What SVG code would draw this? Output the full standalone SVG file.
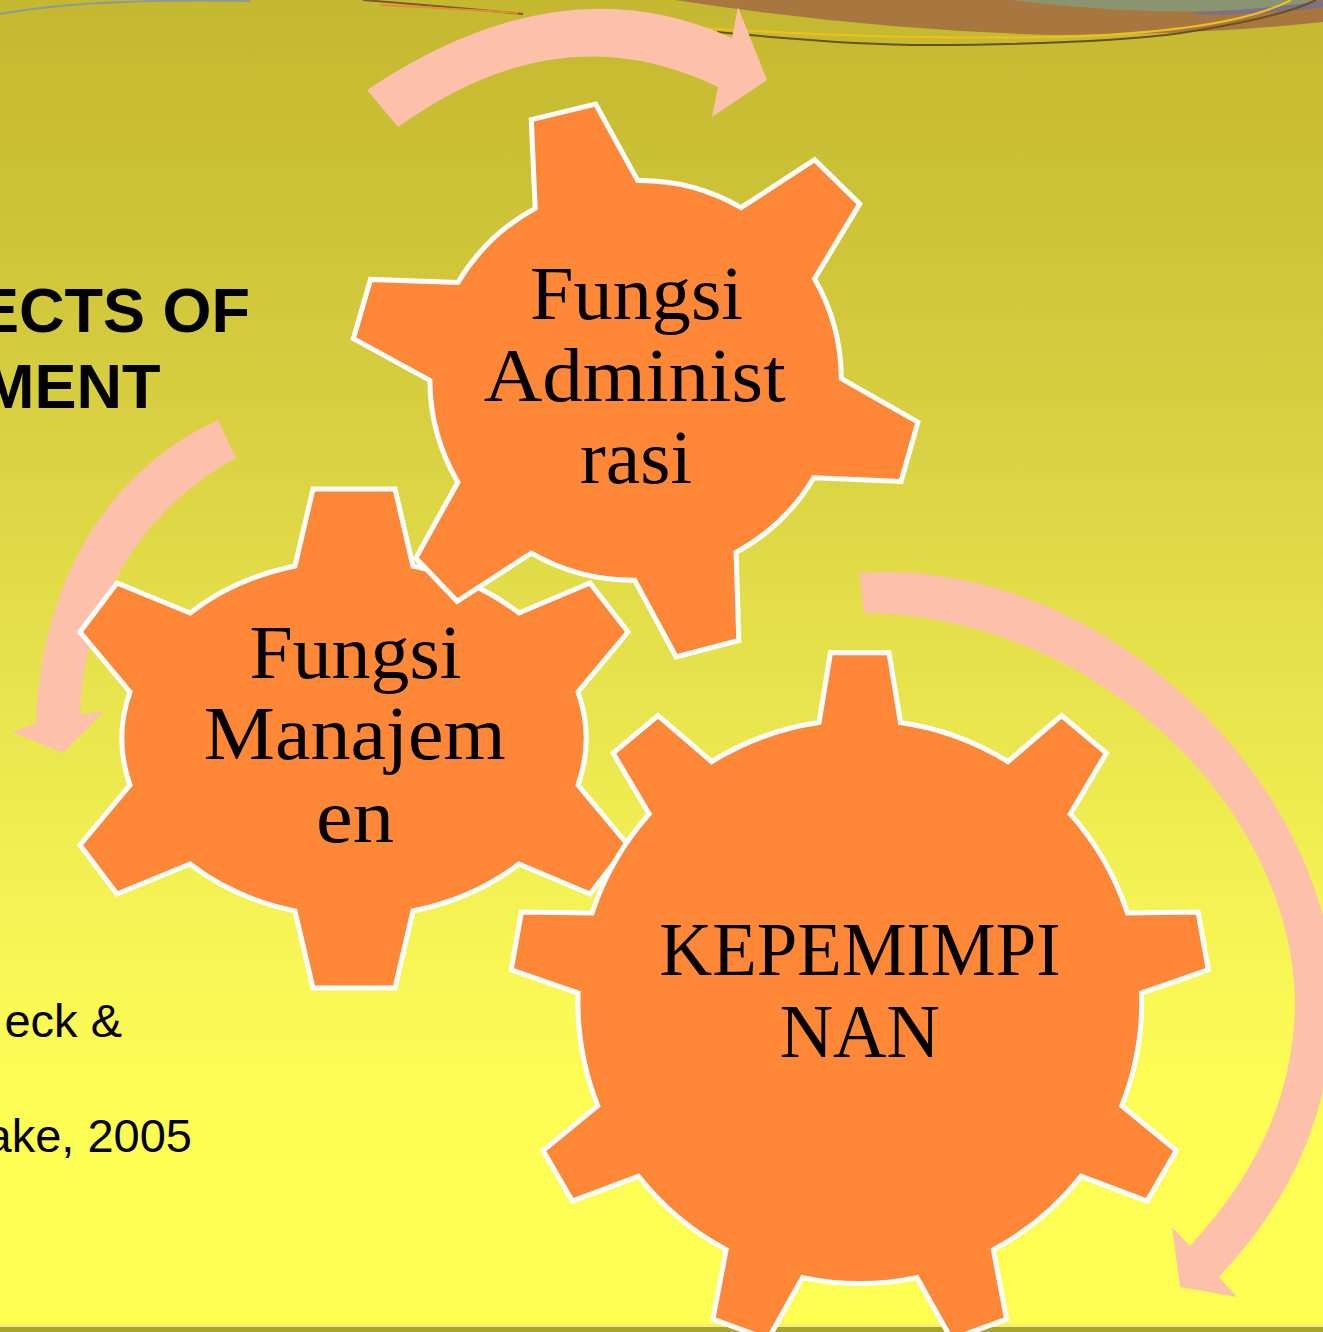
<svg xmlns="http://www.w3.org/2000/svg" width="1323" height="1332" viewBox="0 0 1323 1332">
<defs>
<linearGradient id="bg" x1="0" y1="0" x2="0" y2="1">
<stop offset="0" stop-color="#c3b82f"/>
<stop offset="0.25" stop-color="#d3ca3d"/>
<stop offset="0.5" stop-color="#e6e24c"/>
<stop offset="0.7" stop-color="#f6f455"/>
<stop offset="0.82" stop-color="#fefd55"/>
<stop offset="1" stop-color="#ffff52"/>
</linearGradient>
<style>
.gear{fill:#fe8838;stroke:#ffffff;stroke-width:5;stroke-linejoin:miter}
.arrow{fill:#fdc0aa;stroke:none}
.gt{font-family:"Liberation Serif","Times New Roman",serif;font-size:76px;fill:#000;text-anchor:middle}
.tt{font-family:"Liberation Sans",Arial,sans-serif;font-weight:bold;font-size:63px;fill:#000;text-anchor:end}
.rt{font-family:"Liberation Sans",Arial,sans-serif;font-size:47px;fill:#000;text-anchor:end}
</style>
</defs>
<g id="background">
<rect x="0" y="0" width="1323" height="1332" fill="url(#bg)"/>
<rect x="0" y="1324" width="1323" height="3" fill="#f5ee7a"/>
<rect x="0" y="1327" width="1323" height="5" fill="#aaa52a"/>
<path d="M675,0 Q870,30 1055,35 Q1200,35 1323,22 L1323,0 Z" fill="#a8773f"/>
<path d="M1010,0 Q1150,18 1290,8 Q1306,4 1312,0 Z" fill="#8b9470"/>
<path d="M1190,12 Q1275,9 1323,0 L1323,7 Q1280,14 1200,15 Z" fill="#7d7282"/>
<path d="M700,28 Q900,40 1055,37 Q1230,32 1291,0" fill="none" stroke="#f0c020" stroke-width="2"/>
<path d="M717,32 Q850,45 928,45 Q1100,44 1181,33 Q1280,18 1316,0" fill="none" stroke="#6a5020" stroke-width="2"/>
<path d="M0,14 C60,3 140,-1 250,1" fill="none" stroke="#8a9a9a" stroke-width="2"/>
<path d="M363,0 Q440,6 523,14" fill="none" stroke="#7a5a30" stroke-width="2"/>
<path d="M380,5 Q460,9 518,13" fill="none" stroke="#e88a30" stroke-width="2"/>
</g>
<g id="title">
<text class="tt" x="250" y="331.7">ECTS OF</text>
<text class="tt" x="160.5" y="408.3">MENT</text>
</g>
<g id="reference">
<text class="rt" x="122" y="1036.7">eck &amp;</text>
<text class="rt" x="192" y="1151.7">ake, 2005</text>
</g>
<g id="connectors">
<path class="arrow" d="M367,90 Q560,-40 732,38 L738,7 L767,80 L712,117 L718,87 Q560,10 398,127 Z"/>
<path class="arrow" d="M218,420 C125,462 42,560 36,723 L12,732 L63,753 L105,710 L80,715 C84,595 150,505 236,458 Z"/>
<path class="arrow" d="M859,573 C1090,555 1330,770 1335,1000 C1330,1120 1290,1200 1219,1277 L1237,1297 L1180,1287 L1172,1227 L1190,1246 C1260,1170 1295,1090 1295,1000 C1290,800 1090,615 864,613 Z"/>
</g>
<g id="gear-manajemen">
<path class="gear" d="M295,566 L313,489 L395,489 L413,566 A233,178 0 0 1 519,613 L590,583 L628,632 L578,692 A233,178 0 0 1 578,785 L628,845 L590,894 L519,864 A233,178 0 0 1 413,911 L395,988 L313,988 L295,911 A233,178 0 0 1 190,864 L117,894 L80,845 L130,785 A233,178 0 0 1 130,692 L80,632 L117,583 L190,613 A233,178 0 0 1 295,566 Z"/>
<text class="gt" x="355.4" y="678.3" textLength="212" lengthAdjust="spacingAndGlyphs">Fungsi</text>
<text class="gt" x="354.8" y="759.3" textLength="302" lengthAdjust="spacingAndGlyphs">Manajem</text>
<text class="gt" x="355" y="841.7" textLength="78" lengthAdjust="spacingAndGlyphs">en</text>
</g>
<g id="gear-administrasi">
<path class="gear" d="M535.2,208.4 L531.3,119.6 L595.6,104.1 L637.7,180.6 A203,203 0 0 1 741.1,207.6 L814.6,159.6 L859.7,203.9 L814.6,278.7 A203,203 0 0 1 841.3,378.6 L917.9,422.2 L901,481.4 L813.8,477.7 A203,203 0 0 1 736.1,552.4 L738.8,640.5 L676,656.8 L634.7,580.2 A203,203 0 0 1 531.3,553.2 L457.1,601.3 L415.8,558 L457.9,482.2 A203,203 0 0 1 429.9,380.4 L353.4,338.6 L370.6,279.4 L457.9,282.4 A203,203 0 0 1 535.2,208.4 Z"/>
<text class="gt" x="636.6" y="319.4" textLength="213" lengthAdjust="spacingAndGlyphs">Fungsi</text>
<text class="gt" x="634.7" y="400.8" textLength="302" lengthAdjust="spacingAndGlyphs">Administ</text>
<text class="gt" x="636" y="482.9" textLength="112" lengthAdjust="spacingAndGlyphs">rasi</text>
</g>
<g id="gear-kepemimpinan">
<path class="gear" d="M819,722.5 L830.5,652.7 L889,652.7 L900.5,722.5 A282,282 0 0 1 1007.9,761.6 L1061.5,715.5 L1106.4,753.1 L1070.3,813.9 A282,282 0 0 1 1127.5,913 L1198.1,912.1 L1208.3,969.8 L1141.6,993.1 A282,282 0 0 1 1121.8,1105.8 L1176.4,1150.5 L1147.1,1201.2 L1081.1,1176.3 A282,282 0 0 1 993.4,1249.8 L1006.6,1319.2 L951.5,1339.3 L916.9,1277.6 A282,282 0 0 1 802.6,1277.6 L768,1339.3 L712.9,1319.2 L726.1,1249.8 A282,282 0 0 1 638.4,1176.3 L572.4,1201.2 L543.1,1150.5 L597.7,1105.8 A282,282 0 0 1 578.1,993.1 L511.2,969.8 L521.4,912.1 L592,913 A282,282 0 0 1 649.2,813.9 L613.1,753.1 L658,715.5 L711.6,761.6 A282,282 0 0 1 819,722.5 Z"/>
<text class="gt" x="860" y="974.5" textLength="401" lengthAdjust="spacingAndGlyphs">KEPEMIMPI</text>
<text class="gt" x="859.75" y="1057" textLength="160" lengthAdjust="spacingAndGlyphs">NAN</text>
</g>
</svg>
